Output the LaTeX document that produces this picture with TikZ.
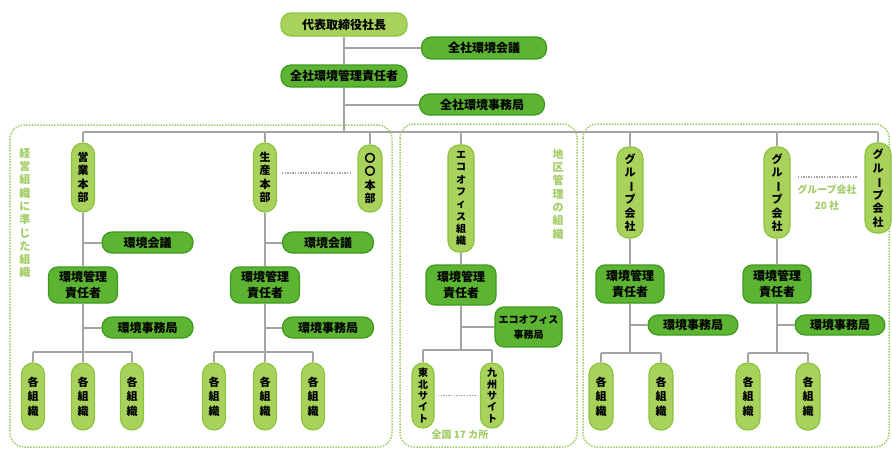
\documentclass[tikz,border=0pt]{standalone}
\usepackage{fontspec}
\setmainfont{Noto Sans CJK JP}
\usetikzlibrary{backgrounds}
\definecolor{lightfill}{HTML}{A8D25C}
\definecolor{lightline}{HTML}{8CC43E}
\definecolor{darkfill}{HTML}{5DB332}
\definecolor{darkline}{HTML}{3E9A1E}
\definecolor{labelgreen}{HTML}{A2CD66}
\definecolor{linegray}{HTML}{A4A4A4}
\newcommand{\vbar}{\rotatebox[origin=c]{-90}{ー}}
\begin{document}
\begin{tikzpicture}[x=1pt,y=-1pt,
  sz/.style 2 args={minimum width=#1pt, minimum height=#2pt},
  boxbase/.style={line width=1.2pt, inner sep=0pt, align=center, text=black,
    font=\bfseries\fontsize{12}{16}\selectfont},
  lt/.style={boxbase, draw=lightline, fill=lightfill},
  dk/.style={boxbase, draw=darkline, fill=darkfill},
  hpill/.style={rounded corners=10pt},
  hbox2/.style={rounded corners=9pt},
  vpill/.style={rounded corners=11.5pt, font=\bfseries\fontsize{11}{13.5}\selectfont},
  vpillw/.style={rounded corners=11.5pt, font=\bfseries\fontsize{11}{14.5}\selectfont},
  vpilln/.style={rounded corners=11pt, font=\bfseries\fontsize{10}{12.3}\selectfont},
  vpillt/.style={rounded corners=11pt, font=\bfseries\fontsize{10}{11.4}\selectfont},
  conn/.style={draw=linegray, line width=2pt},
  gdots/.style={draw=linegray, line width=1.2pt, dash pattern=on 1.3pt off 1.3pt},
  grp/.style={draw=labelgreen, line width=1.5pt, dash pattern=on 1.5pt off 1.3pt, rounded corners=14pt},
  glabel/.style={text=labelgreen, align=center, inner sep=0pt,
    font=\bfseries\fontsize{11}{13.3}\selectfont},
  glabelh/.style={text=labelgreen, align=center, inner sep=0pt,
    font=\bfseries\fontsize{10}{16}\selectfont}]

\useasboundingbox (0,0) rectangle (892,450);

% ---- company level ----
\node[lt,hpill,sz={126}{23}] (ceo)    at (344,24.5) {代表取締役社長};
\node[dk,hpill,sz={125}{22}] (kaigi0) at (484,48)   {全社環境会議};
\node[dk,hpill,sz={126}{22}] (mgr0)   at (344,76)   {全社環境管理責任者};
\node[dk,hpill,sz={125}{21}] (jimu0)  at (482,104.5){全社環境事務局};

\coordinate (bar) at (0,132);

% ---- line organisation ----
\node[lt,vpill,sz={23}{69}] (eig) at (83,177.5)  {営\\業\\本\\部};
\node[lt,vpill,sz={23}{69}] (sei) at (265,177.5) {生\\産\\本\\部};
\node[lt,vpill,sz={24}{67}] (oo)  at (370,178.5) {〇\\〇\\本\\部};

\node[dk,hpill,sz={91}{21}] (kaigi1) at (147.5,242.5) {環境会議};
\node[dk,hbox2,sz={69}{36}] (mgr1)   at (83,285)      {環境管理\\責任者};
\node[dk,hpill,sz={91}{21}] (jimu1)  at (147.5,327.5) {環境事務局};
\node[lt,vpillw,sz={23}{67}] (k11) at (33,396.5)  {各\\組\\織};
\node[lt,vpillw,sz={23}{67}] (k12) at (83,396.5)  {各\\組\\織};
\node[lt,vpillw,sz={23}{67}] (k13) at (132,396.5) {各\\組\\織};

\node[dk,hpill,sz={91}{21}] (kaigi2) at (328,242.5) {環境会議};
\node[dk,hbox2,sz={69}{36}] (mgr2)   at (265,285)   {環境管理\\責任者};
\node[dk,hpill,sz={91}{21}] (jimu2)  at (328,327.5) {環境事務局};
\node[lt,vpillw,sz={23}{67}] (k21) at (214,396.5) {各\\組\\織};
\node[lt,vpillw,sz={23}{67}] (k22) at (265,396.5) {各\\組\\織};
\node[lt,vpillw,sz={23}{67}] (k23) at (313,396.5) {各\\組\\織};

\node[glabel] (lab1) at (25,213) {経\\営\\組\\織\\に\\準\\じ\\た\\組\\織};

% ---- regional organisation ----
\node[lt,vpilln,sz={26}{107}] (eco) at (461,198.5) {エ\\コ\\オ\\フ\\ィ\\ス\\組\\織};
\node[dk,hbox2,sz={70}{40}] (mgr3)  at (461,285)   {環境管理\\責任者};
\node[dk,hbox2,sz={67}{40},font=\bfseries\fontsize{10}{15}\selectfont] (ejimu) at (528.5,327) {エコオフィス\\事務局};
\node[lt,vpillt,sz={22}{65}] (toh) at (423,395.5) {東\\北\\サ\\イ\\ト};
\node[lt,vpillt,sz={23}{65}] (kyu) at (492,395.5) {九\\州\\サ\\イ\\ト};
\node[glabelh] (zenkoku) at (460,435) {全国 17 カ所};
\node[glabel] (lab2) at (558,194) {地\\区\\管\\理\\の\\組\\織};

% ---- group companies ----
\node[lt,vpill,sz={26}{91}] (gc1) at (630,192.5) {グ\\ル\\\vbar\\プ\\会\\社};
\node[lt,vpill,sz={26}{91}] (gc2) at (777,192.5) {グ\\ル\\\vbar\\プ\\会\\社};
\node[lt,vpill,sz={26}{90}] (gc3) at (878,188)   {グ\\ル\\\vbar\\プ\\会\\社};
\node[glabelh] (gc20) at (827,198) {グループ会社\\20 社};

\node[dk,hbox2,sz={68}{38}] (mgr4)  at (630,284) {環境管理\\責任者};
\node[dk,hpill,sz={90}{20}] (jimu4) at (693,325) {環境事務局};
\node[lt,vpillw,sz={24}{67}] (k41) at (601,396.5) {各\\組\\織};
\node[lt,vpillw,sz={24}{67}] (k42) at (661,396.5) {各\\組\\織};

\node[dk,hbox2,sz={68}{38}] (mgr5)  at (777,284) {環境管理\\責任者};
\node[dk,hpill,sz={90}{20}] (jimu5) at (840,325) {環境事務局};
\node[lt,vpillw,sz={24}{67}] (k51) at (748,396.5) {各\\組\\織};
\node[lt,vpillw,sz={24}{67}] (k52) at (808,396.5) {各\\組\\織};

\begin{scope}[on background layer]
  % dotted group frames
  \draw[grp] (10,125) rectangle (392,447);
  \draw[grp] (400,124) rectangle (577,447);
  \draw[grp] (583,124) rectangle (889,447);

  % company trunk
  \draw[conn] (ceo.south) -- (mgr0.north);
  \draw[conn] (mgr0.south) -- (mgr0.south |- bar);
  \draw[conn] (kaigi0.west) -- (kaigi0.west -| ceo.south);
  \draw[conn] (jimu0.west) -- (jimu0.west -| mgr0.south);
  \draw[conn] (eig.north |- bar) -- (gc3.north |- bar);
  \foreach \n in {eig,sei,oo,eco,gc1,gc2,gc3}
    \draw[conn] (\n.north |- bar) -- (\n.north);

  % division and group company branches
  \foreach \top/\mg/\jm/\a/\b/\y in
     {eig/mgr1/jimu1/k11/k13/352, sei/mgr2/jimu2/k21/k23/352,
      gc1/mgr4/jimu4/k41/k42/353, gc2/mgr5/jimu5/k51/k52/353,
      eco/mgr3/ejimu/toh/kyu/350}{
    \draw[conn] (\top.south) -- (\mg.north);
    \coordinate (sub) at (0,\y);
    \draw[conn] (\mg.south) -- (\mg.south |- sub);
    \draw[conn] (\jm.west) -- (\jm.west -| \mg.south);
    \draw[conn] (\a.north |- sub) -- (\b.north |- sub);
  }
  \draw[conn] (kaigi1.west) -- (kaigi1.west -| eig.south);
  \draw[conn] (kaigi2.west) -- (kaigi2.west -| sei.south);
  \coordinate (sub1) at (0,352);
  \coordinate (sub2) at (0,350);
  \coordinate (sub3) at (0,353);
  \foreach \n in {k11,k12,k13,k21,k22,k23}
    \draw[conn] (\n.north |- sub1) -- (\n.north);
  \foreach \n in {toh,kyu}
    \draw[conn] (\n.north |- sub2) -- (\n.north);
  \foreach \n in {k41,k42,k51,k52}
    \draw[conn] (\n.north |- sub3) -- (\n.north);
\end{scope}

% "and more" dotted separators
\draw[gdots] ([xshift=17pt]sei.center |- 0,173) -- ([xshift=-18pt]oo.center |- 0,173);
\draw[gdots] ([xshift=15pt]toh.center) -- ([xshift=-15pt]kyu.center);
\draw[gdots] ([xshift=21pt]gc2.center |- 0,177) -- ([xshift=-21pt]gc3.center |- 0,177);
\end{tikzpicture}
\end{document}
